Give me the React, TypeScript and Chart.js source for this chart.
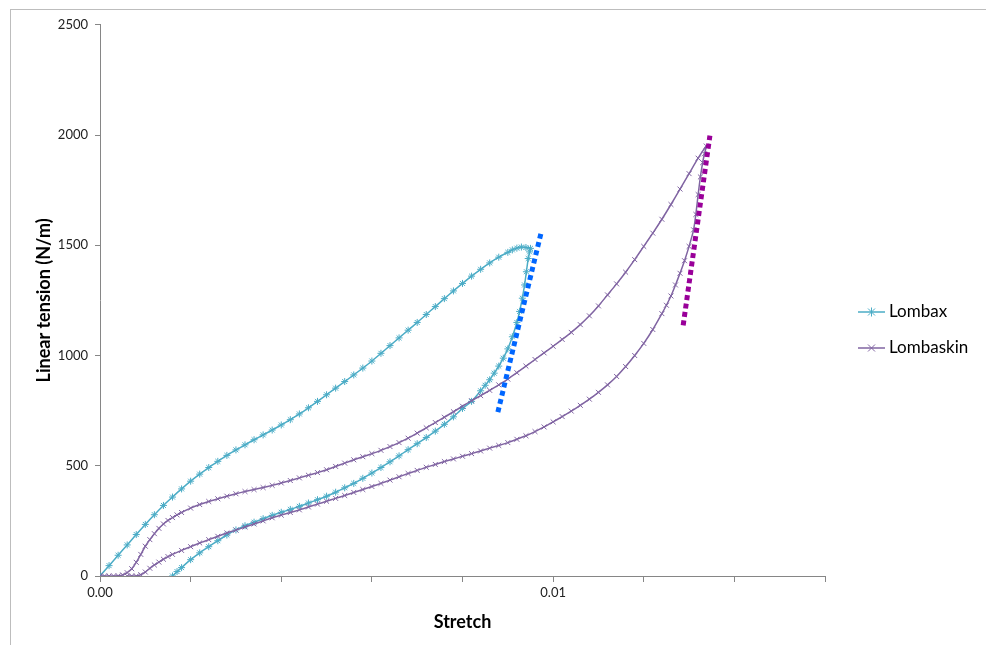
import React, { useEffect, useRef } from 'react';
import { Chart, registerables } from 'chart.js';

Chart.register(...registerables);

// ---- Data ----
const seriesNames = ['Lombax', 'Lombaskin'];

// Lombax: loading branch (upper) then unloading branch (lower)
const lombaxLoadStretch = [
  0, 0.0002, 0.0004, 0.0006, 0.0008, 0.001, 0.0012, 0.0014, 0.0016, 0.0018,
  0.002, 0.0022, 0.0024, 0.0026, 0.0028, 0.003, 0.0032, 0.0034, 0.0036, 0.0038,
  0.004, 0.0042, 0.0044, 0.0046, 0.0048, 0.005, 0.0052, 0.0054, 0.0056, 0.0058,
  0.006, 0.0062, 0.0064, 0.0066, 0.0068, 0.007, 0.0072, 0.0074, 0.0076, 0.0078,
  0.008, 0.0082, 0.0084, 0.0086, 0.0088, 0.009, 0.0091, 0.0092, 0.0093, 0.0094,
  0.0095,
];
const lombaxLoadTension = [
  0, 47, 94, 141, 188, 234, 278, 320, 358, 395,
  430, 462, 492, 520, 547, 572, 595, 618, 640, 662,
  685, 709, 735, 763, 792, 822, 852, 882, 912, 943,
  975, 1010, 1045, 1080, 1115, 1150, 1186, 1222, 1258, 1293,
  1327, 1360, 1391, 1420, 1446, 1468, 1479, 1487, 1492, 1490,
  1486,
];
const lombaxUnloadStretch = [
  0.00948, 0.00945, 0.00941, 0.00937, 0.00932, 0.00926, 0.0092, 0.0091, 0.009, 0.0089,
  0.0088, 0.0087, 0.0086, 0.0085, 0.0084, 0.0082, 0.008, 0.0078, 0.0076, 0.0074,
  0.0072, 0.007, 0.0068, 0.0066, 0.0064, 0.0062, 0.006, 0.0058, 0.0056, 0.0054,
  0.0052, 0.005, 0.0048, 0.0046, 0.0044, 0.0042, 0.004, 0.0038, 0.0036, 0.0034,
  0.0032, 0.003, 0.0028, 0.0026, 0.0024, 0.0022, 0.002, 0.0018, 0.0017, 0.0016,
];
const lombaxUnloadTension = [
  1470, 1440, 1380, 1320, 1260, 1200, 1150, 1085, 1030, 988,
  952, 920, 890, 865, 840, 792, 760, 722, 688, 657,
  628, 600, 573, 545, 518, 492, 467, 443, 420, 400,
  380, 362, 346, 331, 316, 302, 289, 275, 260, 244,
  228, 209, 186, 160, 133, 105, 74, 38, 20, 0,
];

// Lombaskin: upper branch then lower branch
const lombaskinUpperStretch = [
  0, 0.0001, 0.0002, 0.0003, 0.0004, 0.0005, 0.0006, 0.0007, 0.0008, 0.0009,
  0.001, 0.0011, 0.0012, 0.0013, 0.0014, 0.0015, 0.0016, 0.0017, 0.0018, 0.002,
  0.0022, 0.0024, 0.0026, 0.0028, 0.003, 0.0032, 0.0034, 0.0036, 0.0038, 0.004,
  0.0042, 0.0044, 0.0046, 0.0048, 0.005, 0.0052, 0.0054, 0.0056, 0.0058, 0.006,
  0.0062, 0.0064, 0.0066, 0.0068, 0.007, 0.0072, 0.0074, 0.0076, 0.0078, 0.008,
  0.0082, 0.0084, 0.0086, 0.0088, 0.009, 0.0092, 0.0094, 0.0096, 0.0098, 0.01,
  0.0102, 0.0104, 0.0106, 0.0108, 0.011, 0.0112, 0.0114, 0.0116, 0.0118, 0.012,
  0.0122, 0.0124, 0.0126, 0.0128, 0.013, 0.0132, 0.01338,
];
const lombaskinUpperTension = [
  0, 0, 0, 0, 1, 5, 15, 33, 62, 98,
  135, 165, 192, 216, 236, 252, 265, 277, 288, 308,
  324, 338, 350, 362, 373, 383, 392, 401, 411, 422,
  433, 445, 457, 469, 482, 497, 512, 527, 541, 555,
  570, 587, 605, 625, 648, 672, 696, 720, 745, 770,
  795, 818, 842, 867, 893, 922, 952, 982, 1012, 1042,
  1073, 1105, 1140, 1180, 1225, 1275, 1325, 1378, 1435, 1495,
  1555, 1618, 1685, 1755, 1825, 1895, 1950,
];
const lombaskinLowerStretch = [
  0.01334, 0.0133, 0.01325, 0.0132, 0.01315, 0.0131, 0.013, 0.0129, 0.0128, 0.0127,
  0.0126, 0.0125, 0.0124, 0.0122, 0.012, 0.0118, 0.0116, 0.0114, 0.0112, 0.011,
  0.0108, 0.0106, 0.0104, 0.0102, 0.01, 0.0098, 0.0096, 0.0094, 0.0092, 0.009,
  0.0088, 0.0086, 0.0084, 0.0082, 0.008, 0.0078, 0.0076, 0.0074, 0.0072, 0.007,
  0.0068, 0.0066, 0.0064, 0.0062, 0.006, 0.0058, 0.0056, 0.0054, 0.0052, 0.005,
  0.0048, 0.0046, 0.0044, 0.0042, 0.004, 0.0038, 0.0036, 0.0034, 0.0032, 0.003,
  0.0028, 0.0026, 0.0024, 0.0022, 0.002, 0.0018, 0.0016, 0.0015, 0.0014, 0.0013,
  0.0012, 0.0011, 0.001, 0.0009, 0.0008, 0.0007, 0.0006,
];
const lombaskinLowerTension = [
  1915, 1875, 1810, 1730, 1640, 1570, 1495, 1430, 1373, 1320,
  1270, 1228, 1190, 1118, 1055, 1000, 950, 905, 867, 833,
  802, 774, 748, 723, 699, 676, 655, 636, 620, 605,
  592, 580, 567, 555, 543, 531, 519, 506, 493, 479,
  465, 450, 435, 420, 406, 392, 379, 365, 352, 339,
  326, 313, 300, 288, 276, 264, 250, 236, 222, 208,
  195, 180, 165, 150, 133, 116, 98, 88, 76, 63,
  50, 35, 18, 6, 0, 0, 0,
];

// Dotted fitted lines
const blueFitStretch = [0.00878, 0.00973];
const blueFitTension = [743, 1553];
const purpleFitStretch = [0.01287, 0.01346];
const purpleFitTension = [1137, 1997];

const xLabelledTicks = [0, 0.01];
const xTickLabels = ['0.00', '0.01'];

const CYAN = '#4BACC6';
const PURPLE = '#8064A2';
const FONT = 'Lato, "Open Sans", sans-serif';

function toPoints(xs: number[], ys: number[]) {
  return xs.map((x, i) => ({ x, y: ys[i] }));
}

const legendPlugin = {
  id: 'excelLegend',
  afterDraw(chart: any) {
    const ctx: CanvasRenderingContext2D = chart.ctx;
    const area = chart.chartArea;
    const cy = chart.height / 2 + 2.5;
    const items = [
      { name: seriesNames[0], color: CYAN, style: 'star', y: cy - 18 },
      { name: seriesNames[1], color: PURPLE, style: 'crossRot', y: cy + 18 },
    ];
    ctx.save();
    items.forEach((it) => {
      const x0 = area.right + 33;
      const x1 = area.right + 60;
      const mx = (x0 + x1) / 2;
      ctx.strokeStyle = it.color;
      ctx.lineWidth = 1.5;
      ctx.beginPath();
      ctx.moveTo(x0, it.y);
      ctx.lineTo(x1, it.y);
      ctx.stroke();
      const r = 3.5;
      ctx.lineWidth = 1;
      ctx.beginPath();
      ctx.moveTo(mx - r, it.y - r);
      ctx.lineTo(mx + r, it.y + r);
      ctx.moveTo(mx - r, it.y + r);
      ctx.lineTo(mx + r, it.y - r);
      if (it.style === 'star') {
        ctx.moveTo(mx, it.y - r - 1);
        ctx.lineTo(mx, it.y + r + 1);
      }
      ctx.stroke();
      ctx.fillStyle = '#000';
      ctx.font = `17px ${FONT}`;
      ctx.textBaseline = 'middle';
      ctx.textAlign = 'left';
      ctx.fillText(it.name, area.right + 64, it.y);
    });
    ctx.restore();
  },
};

export default function App() {
  const canvasRef = useRef<HTMLCanvasElement | null>(null);

  useEffect(() => {
    if (!canvasRef.current) return;
    const chart = new Chart(canvasRef.current, {
      type: 'scatter',
      data: {
        datasets: [
          {
            label: seriesNames[0],
            data: toPoints(
              [...lombaxLoadStretch, ...lombaxUnloadStretch],
              [...lombaxLoadTension, ...lombaxUnloadTension]
            ),
            showLine: true,
            borderColor: CYAN,
            borderWidth: 1.5,
            pointStyle: 'star',
            pointRadius: 3.5,
            pointBorderWidth: 1,
            pointBorderColor: CYAN,
            pointBackgroundColor: CYAN,
            tension: 0.2,
            order: 4,
          },
          {
            label: seriesNames[1],
            data: toPoints(
              [...lombaskinUpperStretch, ...lombaskinLowerStretch],
              [...lombaskinUpperTension, ...lombaskinLowerTension]
            ),
            showLine: true,
            borderColor: PURPLE,
            borderWidth: 1.5,
            pointStyle: 'crossRot',
            pointRadius: 3.5,
            pointBorderWidth: 1,
            pointBorderColor: PURPLE,
            pointBackgroundColor: PURPLE,
            tension: 0.2,
            order: 3,
          },
          {
            label: 'fit1',
            data: toPoints(blueFitStretch, blueFitTension),
            showLine: true,
            borderColor: '#0066FF',
            borderWidth: 5,
            borderDash: [5, 3.5],
            pointRadius: 0,
            order: 1,
          },
          {
            label: 'fit2',
            data: toPoints(purpleFitStretch, purpleFitTension),
            showLine: true,
            borderColor: '#990099',
            borderWidth: 5,
            borderDash: [5, 3.5],
            pointRadius: 0,
            order: 2,
          },
        ],
      },
      options: {
        animation: false,
        responsive: false,
        layout: { padding: { left: 0, top: 14, right: 161, bottom: 0 } },
        plugins: {
          legend: { display: false },
          tooltip: { enabled: false },
        },
        scales: {
          x: {
            type: 'linear',
            min: 0,
            max: 0.016,
            afterFit: (s: any) => {
              s.height = 69;
            },
            border: { color: '#868686', width: 1 },
            grid: {
              drawOnChartArea: false,
              drawTicks: true,
              tickLength: 6,
              color: '#868686',
              tickColor: '#868686',
            },
            ticks: {
              stepSize: 0.002,
              autoSkip: false,
              maxRotation: 0,
              padding: 3,
              color: '#222',
              font: { family: FONT, size: 13 },
              callback: (v: any) => {
                const i = xLabelledTicks.findIndex((t) => Math.abs(t - Number(v)) < 1e-9);
                return i >= 0 ? xTickLabels[i] : '';
              },
            },
            title: {
              display: true,
              text: 'Stretch',
              color: '#000',
              font: { family: FONT, size: 18, weight: 'bold' },
              padding: { top: 0, bottom: 12 },
            },
          },
          y: {
            type: 'linear',
            min: 0,
            max: 2500,
            afterFit: (s: any) => {
              s.width = 89;
            },
            border: { color: '#868686', width: 1 },
            grid: {
              drawOnChartArea: false,
              drawTicks: true,
              tickLength: 5,
              color: '#868686',
              tickColor: '#868686',
            },
            ticks: {
              stepSize: 500,
              padding: 7,
              color: '#222',
              font: { family: FONT, size: 13 },
              callback: (v: any) => String(v),
            },
            title: {
              display: true,
              text: 'Linear tension (N/m)',
              color: '#000',
              font: { family: FONT, size: 18, weight: 'bold' },
              padding: { top: 22, bottom: 0 },
            },
          },
        },
      },
      plugins: [legendPlugin],
    } as any);
    return () => chart.destroy();
  }, []);

  return (
    <div
      style={{
        position: 'fixed',
        left: 10,
        top: 9,
        width: 975,
        height: 635,
        borderLeft: '1px solid #bdbdbd',
        borderTop: '1px solid #bdbdbd',
        background: '#fff',
      }}
    >
      <canvas ref={canvasRef} width={975} height={635} style={{ display: 'block' }} />
    </div>
  );
}
